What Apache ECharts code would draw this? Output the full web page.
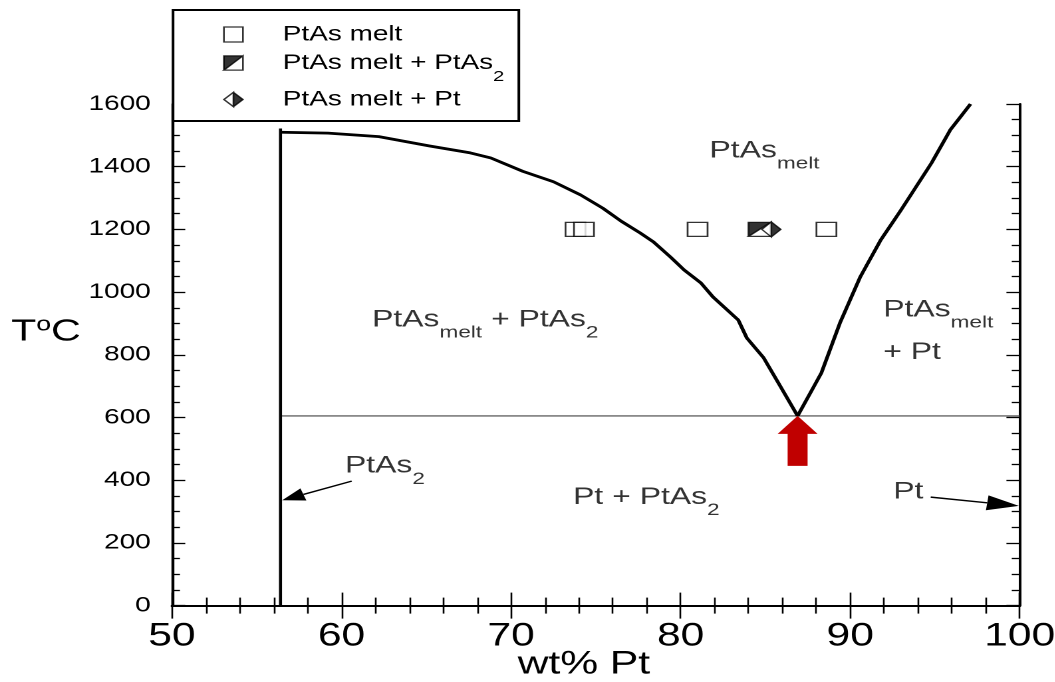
<!DOCTYPE html>
<html>
<head>
<meta charset="utf-8">
<title>Pt–As phase diagram</title>
<script src="https://cdn.jsdelivr.net/npm/echarts@6/dist/echarts.min.js"></script>
<style>
  html, body { margin: 0; padding: 0; background: #fff; overflow: hidden; }
  /* the diagram is laid out narrow and widened horizontally */
  #chart { width: 793.23px; height: 682px; transform: scaleX(1.33); transform-origin: 0 0; }
</style>
</head>
<body>
<div id="chart"></div>
<script>
// Liquidus, As-rich branch (wt% Pt, °C): from PtAs2 down to the eutectic
const liquidusPtAs2 = [
  [56.4, 1510], [59.2, 1507], [62.2, 1496], [65.2, 1466], [67.6, 1444], [68.8, 1428],
  [70.7, 1385], [72.5, 1352], [74.1, 1310], [75.4, 1268], [76.5, 1226], [77.6, 1189],
  [78.4, 1160], [79.4, 1112], [80.2, 1071], [81.2, 1029], [81.9, 985], [83.4, 911],
  [83.9, 854], [84.9, 790], [85.9, 698], [86.9, 605]
];
// Liquidus, Pt-rich branch: from the eutectic up to the top of the frame
const liquidusPt = [
  [86.9, 605], [88.3, 742], [89.4, 902], [90.6, 1049], [91.8, 1166], [93.0, 1262],
  [94.8, 1412], [95.9, 1517], [97.1, 1600]
];
// PtAs2 compound line and eutectic isotherm
const ptas2Line = [[56.4, 0], [56.4, 1522]];
const eutecticLine = [[56.4, 605], [100, 605]];
const eutecticPoint = [[86.9, 605]];

// Experiments at 1200 °C
const meltOnly = [[73.8, 1200], [74.3, 1200], [81.0, 1200], [88.6, 1200]];
const meltPtAs2 = [[84.65, 1200]];
const meltPt = [[85.35, 1200]];

// Axis tick labels
const xTickLabels = ['50', '60', '70', '80', '90', '100'];
const yTickLabels = ['0', '200', '400', '600', '800', '1000', '1200', '1400', '1600'];

// Field names (anchor = left edge, vertical centre of the main text)
const fieldLabels = [
  { value: [81.7, 1450], text: '{m|PtAs}{s|melt}' },
  { value: [61.8, 911], text: '{m|PtAs}{s|melt}{m| + PtAs}{s|2}' },
  { value: [91.95, 943], text: '{m|PtAs}{s|melt}' },
  { value: [91.95, 808], text: '{m|+ Pt}' },
  { value: [60.2, 445], text: '{m|PtAs}{s|2}' },
  { value: [73.66, 346], text: '{m|Pt + PtAs}{s|2}' },
  { value: [92.54, 362], text: '{m|Pt}' }
];
// Pointer arrows: [fromX, fromY, toX, toY]
const pointerArrows = [[60.6, 397, 56.5, 336], [94.75, 346, 99.95, 318]];

const FONT = '"Liberation Sans", Arial, Helvetica, sans-serif';
const SERIES_MELT = 'PtAs melt';
const SERIES_MELT_PTAS2 = 'PtAs melt + PtAs2';
const SERIES_MELT_PT = 'PtAs melt + Pt';

// Half-filled symbols (non-zero winding leaves the white part unfilled)
const HALF_SQUARE = 'path://M0,0L10,0L10,10L0,10ZM10,0L0,10L10,10Z';
const HALF_DIAMOND = 'path://M5,0L10,5L5,10L0,5ZM5,0L0,5L5,10Z';

const chart = echarts.init(document.getElementById('chart'), null, { devicePixelRatio: 2 });

const richText = {
  m: { fontFamily: FONT, fontSize: 24, lineHeight: 28, color: '#000' },
  s: { fontFamily: FONT, fontSize: 17, lineHeight: 17, padding: [26, 0, 0, 0], color: '#000' }
};
const legendRich = {
  m: { fontFamily: FONT, fontSize: 21, lineHeight: 26, color: '#000' },
  s: { fontFamily: FONT, fontSize: 15, lineHeight: 15, padding: [28, 0, 0, 0], color: '#000' }
};

function legendEntry(name, icon, top, label) {
  return {
    data: [{ name: name, icon: icon }],
    left: 167.7, top: top, orient: 'vertical', padding: 0,
    itemWidth: 14.3, itemHeight: 15, z: 60, selectedMode: false,
    itemStyle: { borderWidth: 1.3 },
    formatter: function () { return label; },
    textStyle: { padding: [0, 0, 0, 25], rich: legendRich }
  };
}

function frameAxis(extra) {
  return Object.assign({
    axisLine: { show: true, lineStyle: { color: '#000', width: 2 } },
    splitLine: { show: false },
    minorSplitLine: { show: false }
  }, extra);
}

const option = {
  animation: false,
  backgroundColor: '#fff',
  grid: { left: 129.3, right: 26.3, top: 104, bottom: 76.4, outerBoundsMode: 'none', containLabel: false },
  graphic: [{
    type: 'rect', z: 50,
    shape: { x: 130.1, y: 10, width: 260, height: 111 },
    style: { fill: '#fff', stroke: '#000', lineWidth: 2 }
  }],
  legend: [
    legendEntry(SERIES_MELT, 'rect', 24, '{m|PtAs melt}'),
    legendEntry(SERIES_MELT_PTAS2, HALF_SQUARE, 41.5, '{m|PtAs melt + PtAs}{s|2}'),
    legendEntry(SERIES_MELT_PT, HALF_DIAMOND, 89, '{m|PtAs melt + Pt}')
  ],
  xAxis: [
    frameAxis({
      type: 'value', position: 'bottom', min: 50, max: 100, interval: 10,
      axisTick: { show: true, inside: true, length: 13, lineStyle: { color: '#000', width: 1.3 } },
      minorTick: { show: true, splitNumber: 5, length: 8, lineStyle: { color: '#000', width: 1.3 } },
      axisLabel: {
        fontFamily: FONT, fontSize: 32, color: '#000', margin: 15,
        formatter: function (v) { return xTickLabels[Math.round((v - 50) / 10)]; }
      },
      name: 'wt% Pt', nameLocation: 'middle', nameGap: 43, nameMoveOverlap: false,
      nameTextStyle: { fontFamily: FONT, fontSize: 32, color: '#000', padding: [0, 18, 0, 0] }
    }),
    frameAxis({
      type: 'value', position: 'top', min: 50, max: 100, interval: 10,
      axisTick: { show: true, inside: true, length: 13, lineStyle: { color: '#000', width: 1.3 } },
      minorTick: { show: true, splitNumber: 5, length: 8, lineStyle: { color: '#000', width: 1.3 } },
      axisLabel: { show: false }
    })
  ],
  yAxis: [
    frameAxis({
      type: 'value', position: 'left', min: 0, max: 1600, interval: 200,
      axisLine: { show: true, lineStyle: { color: '#000', width: 2.2 } },
      axisTick: { show: true, inside: true, length: 10, lineStyle: { color: '#000', width: 1.3 } },
      minorTick: { show: true, splitNumber: 4, length: 6, lineStyle: { color: '#000', width: 1.3 } },
      axisLabel: {
        fontFamily: FONT, fontSize: 21, color: '#000', margin: 16,
        formatter: function (v) { return yTickLabels[Math.round(v / 200)]; }
      },
      name: '{t|T}{o|o}{t|C}', nameLocation: 'middle', nameRotate: 0, nameGap: 68.5, nameMoveOverlap: false,
      nameTextStyle: {
        padding: [0, 0, 46, 0],
        rich: {
          t: { fontFamily: FONT, fontSize: 31, lineHeight: 32, color: '#000' },
          o: { fontFamily: FONT, fontSize: 20, lineHeight: 20, padding: [0, 0, 14, 0], color: '#000' }
        }
      }
    }),
    frameAxis({
      type: 'value', position: 'right', min: 0, max: 1600, interval: 200,
      axisTick: { show: true, inside: true, length: 10, lineStyle: { color: '#000', width: 1.3 } },
      minorTick: { show: true, splitNumber: 4, length: 6, lineStyle: { color: '#000', width: 1.3 } },
      axisLabel: { show: false }
    })
  ],
  series: [
    {
      type: 'line', data: eutecticLine, symbol: 'none', silent: true,
      lineStyle: { color: '#444', width: 1.2 }, z: 2
    },
    {
      type: 'line', data: ptas2Line, symbol: 'none', silent: true,
      lineStyle: { color: '#000', width: 2.3 }, z: 3
    },
    {
      type: 'line', data: liquidusPtAs2, symbol: 'none', silent: true,
      lineStyle: { color: '#000', width: 2.8, join: 'round' }, z: 3
    },
    {
      type: 'line', data: liquidusPt, symbol: 'none', silent: true,
      lineStyle: { color: '#000', width: 2.8, join: 'round' }, z: 3
    },
    {
      name: SERIES_MELT, type: 'scatter', data: meltOnly, symbol: 'rect', symbolSize: [15, 14],
      itemStyle: { color: '#fff', borderColor: '#000', borderWidth: 1.3 }, z: 4, silent: true
    },
    {
      name: SERIES_MELT_PTAS2, type: 'scatter', data: meltPtAs2, symbol: HALF_SQUARE, symbolSize: [16.5, 14],
      itemStyle: { color: '#000', borderColor: '#000', borderWidth: 1.3 }, z: 4, silent: true
    },
    {
      // white backing so the hollow half of the diamond hides what lies beneath
      type: 'scatter', data: meltPt, symbol: 'diamond', symbolSize: [14.3, 15],
      itemStyle: { color: '#fff', borderWidth: 0 }, z: 4, silent: true
    },
    {
      name: SERIES_MELT_PT, type: 'scatter', data: meltPt, symbol: HALF_DIAMOND, symbolSize: [14.3, 15],
      itemStyle: { color: '#000', borderColor: '#000', borderWidth: 1.2 }, z: 4, silent: true
    },
    {
      // red arrow pointing at the eutectic
      type: 'custom', data: eutecticPoint, encode: { x: 0, y: 1 }, clip: false, silent: true, z: 5,
      renderItem: function (params, api) {
        const p = api.coord([api.value(0), api.value(1)]);
        const x = p[0], y = p[1];
        return {
          type: 'polygon',
          shape: { points: [[x, y], [x + 15, y + 18], [x + 7.5, y + 18], [x + 7.5, y + 50],
                            [x - 7.5, y + 50], [x - 7.5, y + 18], [x - 15, y + 18]] },
          style: { fill: '#c00000' }
        };
      }
    },
    {
      // pointers from the PtAs2 and Pt labels to their composition lines
      type: 'custom', data: pointerArrows, encode: { x: [0, 2], y: [1, 3] }, clip: false, silent: true, z: 5,
      renderItem: function (params, api) {
        const a = api.coord([api.value(0), api.value(1)]);
        const b = api.coord([api.value(2), api.value(3)]);
        const dx = b[0] - a[0], dy = b[1] - a[1];
        const len = Math.sqrt(dx * dx + dy * dy);
        const ux = dx / len, uy = dy / len;
        const headLen = params.dataIndex === 0 ? 17 : 24;
        const headHalf = params.dataIndex === 0 ? 6.5 : 7.5;
        const bx = b[0] - ux * headLen, by = b[1] - uy * headLen;
        return {
          type: 'group',
          children: [
            { type: 'line', shape: { x1: a[0], y1: a[1], x2: bx, y2: by },
              style: { stroke: '#000', lineWidth: 1.4 } },
            { type: 'polygon',
              shape: { points: [[b[0], b[1]], [bx - uy * headHalf, by + ux * headHalf], [bx + uy * headHalf, by - ux * headHalf]] },
              style: { fill: '#000' } }
          ]
        };
      }
    },
    {
      // field names
      type: 'scatter', data: fieldLabels, symbolSize: 0, silent: true, z: 6,
      label: {
        show: true, position: 'right', distance: 0,
        formatter: function (p) { return p.data.text; },
        rich: richText
      }
    }
  ]
};

chart.setOption(option);
</script>
</body>
</html>
